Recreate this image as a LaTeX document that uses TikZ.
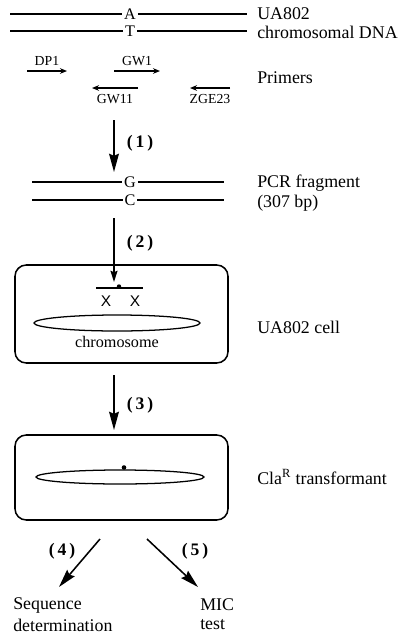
\documentclass[tikz,border=0pt]{standalone}
\usepackage{fontspec}
\setmainfont{Liberation Serif}
\newfontfamily\xfont{Liberation Sans}
\usetikzlibrary{arrows.meta}

\begin{document}
\begin{tikzpicture}[x=0.025cm,y=-0.025cm,
    dna/.style={line width=1pt},
    base/.style={inner sep=1.2pt,font=\fontsize{11.5}{13}\selectfont},
    primer/.style={line width=0.8pt,-{Stealth[length=5pt,width=4pt]}},
    plab/.style={font=\fontsize{9.8}{11}\selectfont},
    lab/.style={anchor=west,inner sep=0pt,font=\fontsize{12.7}{14}\selectfont},
    bigarrow/.style={line width=1.1pt,-{Stealth[length=13pt,width=7pt,inset=1.5pt]}},
    num/.style={font=\bfseries\fontsize{12.5}{14}\selectfont},
    cell/.style={draw,line width=1.1pt,rounded corners=8pt}]
  \useasboundingbox (0,0) rectangle (400,640);

  % chromosomal DNA
  \node[base] (A) at (130,14) {A};
  \node[base] (T) at (130,31) {T};
  \draw[dna] (10,14) -- (A) -- (247,14);
  \draw[dna] (10,31) -- (T) -- (247,31);
  \node[lab] (ua) at (257,14) {UA802};
  \node[lab] (chrdna) at (257,32) {chromosomal DNA};

  % primers
  \draw[primer] (27,71) -- node[plab,above] (dp1) {DP1} (67,71);
  \draw[primer] (114,71) -- node[plab,above] (gw1) {GW1} (160,71);
  \draw[primer] (138,88) -- node[plab,below=1pt] (gw11) {GW11} (92,88);
  \draw[primer] (230,88) -- node[plab,below=1pt] (zge) {ZGE23} (190,88);
  \node[lab] (primers) at (257,78) {Primers};

  % (1)
  \coordinate (s1) at (114,120);
  \coordinate (e1) at (114,172);
  \draw[bigarrow] (s1) -- (e1);
  \node[num] (n1) at (140,143) {(\,1\,)};

  % PCR fragment
  \node[base] (G) at (130,182) {G};
  \node[base] (C) at (130,200) {C};
  \draw[dna] (32,182) -- (G) -- (224,182);
  \draw[dna] (32,200) -- (C) -- (224,200);
  \node[lab] (pcr) at (257,183) {PCR fragment};
  \node[lab] (bp) at (257,203) {(307 bp)};

  % (2)
  \coordinate (s2) at (114,218);
  \coordinate (e2) at (114,282);
  \draw[line width=0.9pt,-{Stealth[length=8pt,width=5pt,inset=1pt]}] (s2) -- (e2);
  \node[num] (n2) at (140,243) {(\,2\,)};

  % UA802 cell
  \draw[cell] (15,265) rectangle (228,363);
  \draw[dna] (96,288) -- (143,288);
  \fill (119,286.5) circle (2.2);
  \node[font=\xfont\fontsize{11}{13}\selectfont] (x1) at (106,301) {X};
  \node[font=\xfont\fontsize{11}{13}\selectfont] (x2) at (135,301) {X};
  \draw[line width=0.9pt] (117,323) ellipse [x radius=83, y radius=8];
  \node[base] (chrom) at (117,342) {chromosome};
  \node[lab] (cell1) at (257,327) {UA802 cell};

  % (3)
  \coordinate (s3) at (114,375);
  \coordinate (e3) at (114,430);
  \draw[bigarrow] (s3) -- (e3);
  \node[num] (n3) at (140,405) {(\,3\,)};

  % ClaR transformant
  \draw[cell] (15,435) rectangle (228,520);
  \draw[line width=0.9pt] (120,477) ellipse [x radius=84, y radius=7];
  \fill (124,467.5) circle (2.3);
  \node[lab] (trans) at (257,477) {Cla\textsuperscript{R} transformant};

  % (4) and (5)
  \coordinate (s4) at (100,539);
  \coordinate (e4) at (59,587);
  \coordinate (s5) at (147,539);
  \coordinate (e5) at (198,587);
  \draw[bigarrow] (s4) -- (e4);
  \draw[bigarrow] (s5) -- (e5);
  \node[num] (n4) at (62,551) {(\,4\,)};
  \node[num] (n5) at (195,551) {(\,5\,)};
  \node[lab] (seq) at (13,605) {Sequence};
  \node[lab] (det) at (13,625) {determination};
  \node[lab] (mic) at (200,605) {MIC};
  \node[lab] (test) at (200,625) {test};
\end{tikzpicture}
\end{document}
